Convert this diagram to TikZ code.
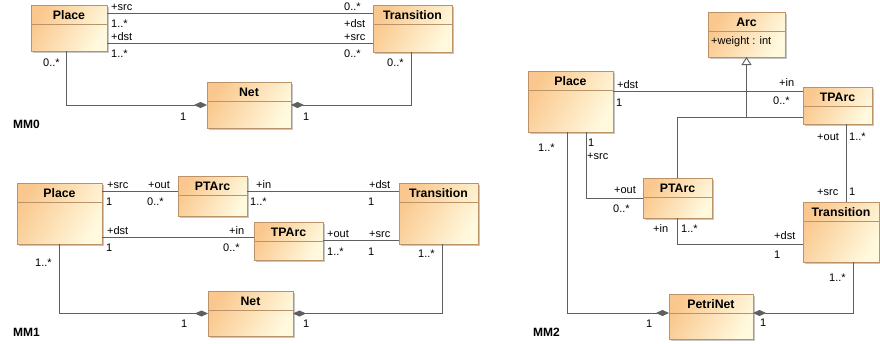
\documentclass[tikz,border=0pt]{standalone}
\usepackage{fontspec}
\setmainfont{Liberation Sans}
\usetikzlibrary{calc,arrows.meta}
\definecolor{boxA}{RGB}{250,200,142}
\definecolor{boxB}{RGB}{255,249,222}
\definecolor{boxborder}{RGB}{188,146,104}
\definecolor{linec}{RGB}{95,95,95}
\tikzset{
 classbox/.style={draw=boxborder, line width=0.9pt, top color=boxA, bottom color=boxB, shading angle=60, inner sep=0, outer sep=0},
 boxshadow/.style={fill=black!22},
 divline/.style={draw=boxborder, line width=0.9pt},
 classtitle/.style={font=\fontsize{12.3}{13}\selectfont\bfseries, anchor=base, inner sep=0},
 lbl/.style={font=\fontsize{11}{12}\selectfont, anchor=base west, inner sep=0},
 mmlbl/.style={font=\fontsize{12}{13}\selectfont\bfseries, anchor=base west, inner sep=0},
 assoc/.style={draw=linec, line width=0.9pt},
 comp/.style={assoc, -{Diamond[length=13pt,width=6pt,fill=linec]}},
 gen/.style={assoc, -{Triangle[open,length=8pt,width=10pt,fill=white]}},
}
\newcommand\umlbox[6]{%
  \fill[boxshadow] (#2+2,#3+2) rectangle (#4+2,#5+2);
  \node[classbox, anchor=north west, minimum width=#4pt-#2pt, minimum height=#5pt-#3pt] (#1) at (#2,#3) {};
  \node[classtitle] (#1-t) at ($(#1.north)+(0,14)$) {#6};
  \draw[divline] ($(#1.north west)+(0,19)$) -- ($(#1.north east)+(0,19)$);
}
\newcommand\lbl[4]{\node[lbl] (#1) at (#2,#3) {#4};}
\begin{document}
\begin{tikzpicture}[x=1pt,y=-1pt]
\useasboundingbox (0,0) rectangle (880,343);
% ---------- MM0 ----------
\umlbox{place0}{31}{5}{107}{51}{Place}
\umlbox{trans0}{373}{5}{452}{52}{Transition}
\umlbox{net0}{207}{82}{291}{128}{Net}
\draw[assoc] ($(place0.north east)+(0,8)$) -- ($(trans0.north west)+(0,8)$);
\draw[assoc] ($(place0.north east)+(0,38)$) -- ($(trans0.north west)+(0,38)$);
\draw[comp] ($(place0.south west)+(35,0)$) |- (net0.west);
\draw[comp] ($(trans0.south west)+(38,0)$) |- (net0.east);
\lbl{a1}{111}{10}{+src}
\lbl{a2}{111}{27}{1..*}
\lbl{a3}{111}{40}{+dst}
\lbl{a4}{111}{57}{1..*}
\lbl{a5}{344}{10}{0..*}
\lbl{a6}{344}{27}{+dst}
\lbl{a7}{344}{40}{+src}
\lbl{a8}{344}{57}{0..*}
\lbl{a9}{43}{66}{0..*}
\lbl{a10}{180}{120}{1}
\lbl{a11}{387}{66}{0..*}
\lbl{a12}{303}{120}{1}
\node[mmlbl] (mm0) at (13,128) {MM0};
% ---------- MM1 ----------
\umlbox{place1}{17}{183}{102}{244}{Place}
\umlbox{ptarc1}{178}{176}{247}{216}{PTArc}
\umlbox{tparc1}{254}{222}{323}{260}{TPArc}
\umlbox{trans1}{399}{183}{478}{244}{Transition}
\umlbox{net1}{208}{291}{293}{336}{Net}
\draw[assoc] ($(place1.north east)+(0,8)$) -- ($(ptarc1.north west)+(0,15)$);
\draw[assoc] ($(place1.north east)+(0,54)$) -- ($(tparc1.north west)+(0,15)$);
\draw[assoc] ($(ptarc1.north east)+(0,15)$) -- ($(trans1.north west)+(0,8)$);
\draw[assoc] ($(tparc1.north east)+(0,18)$) -- ($(trans1.north west)+(0,57)$);
\draw[comp] ($(place1.south west)+(42,0)$) |- (net1.west);
\draw[comp] ($(trans1.south west)+(43,0)$) |- (net1.east);
\lbl{b1}{107}{188}{+src}
\lbl{b2}{148}{188}{+out}
\lbl{b3}{106}{205}{1}
\lbl{b4}{147}{205}{0..*}
\lbl{b5}{107}{234}{+dst}
\lbl{b6}{106}{251}{1}
\lbl{b7}{229}{234}{+in}
\lbl{b8}{223}{251}{0..*}
\lbl{b9}{256}{188}{+in}
\lbl{b10}{250}{205}{1..*}
\lbl{b11}{369}{188}{+dst}
\lbl{b12}{368}{205}{1}
\lbl{b13}{327}{237}{+out}
\lbl{b14}{369}{237}{+src}
\lbl{b15}{327}{255}{1..*}
\lbl{b16}{368}{255}{1}
\lbl{b17}{35}{266}{1..*}
\lbl{b18}{181}{327}{1}
\lbl{b19}{418}{257}{1..*}
\lbl{b20}{303}{327}{1}
\node[mmlbl] (mm1) at (13,336) {MM1};
% ---------- MM2 ----------
\umlbox{arc2}{708}{12}{785}{57}{Arc}
\node[lbl] (arcattr) at (711,44) {+weight : int};
\umlbox{place2}{528}{71}{613}{132}{Place}
\umlbox{tparc2}{803}{87}{872}{124}{TPArc}
\umlbox{ptarc2}{643}{178}{712}{218}{PTArc}
\umlbox{trans2}{803}{202}{879}{262}{Transition}
\umlbox{petri2}{669}{294}{753}{339}{PetriNet}
\coordinate (gj) at ($(arc2.south)+(0,60)$);
\draw[assoc] ($(place2.north east)+(0,20)$) -- ($(tparc2.north west)+(0,4)$);
\draw[assoc] ($(tparc2.north west)+(0,30)$) -| (ptarc2.north);
\draw[gen] (gj) -- (arc2.south);
\draw[assoc] ($(place2.south west)+(58,0)$) |- (ptarc2.west);
\draw[comp] ($(place2.south west)+(39,0)$) |- ($(petri2.north west)+(0,19)$);
\draw[assoc] (ptarc2.south) |- ($(trans2.north west)+(0,42)$);
\draw[assoc] ($(tparc2.south west)+(43,0)$) -- ($(trans2.north west)+(43,0)$);
\draw[comp] ($(trans2.south west)+(50,0)$) |- ($(petri2.north east)+(0,19)$);
\lbl{c1}{617}{88}{+dst}
\lbl{c2}{616}{106}{1}
\lbl{c3}{779}{86}{+in}
\lbl{c4}{773}{104}{0..*}
\lbl{c5}{588}{146}{1}
\lbl{c6}{587}{159}{+src}
\lbl{c7}{614}{193}{+out}
\lbl{c8}{613}{212}{0..*}
\lbl{c9}{538}{151}{1..*}
\lbl{c10}{646}{327}{1}
\lbl{c11}{653}{232}{+in}
\lbl{c12}{681}{232}{1..*}
\lbl{c13}{774}{239}{+dst}
\lbl{c14}{774}{258}{1}
\lbl{c15}{817}{140}{+out}
\lbl{c16}{849}{140}{1..*}
\lbl{c17}{817}{195}{+src}
\lbl{c18}{849}{195}{1}
\lbl{c19}{829}{281}{1..*}
\lbl{c20}{760}{326}{1}
\node[mmlbl] (mm2) at (533,336) {MM2};
\end{tikzpicture}
\end{document}
